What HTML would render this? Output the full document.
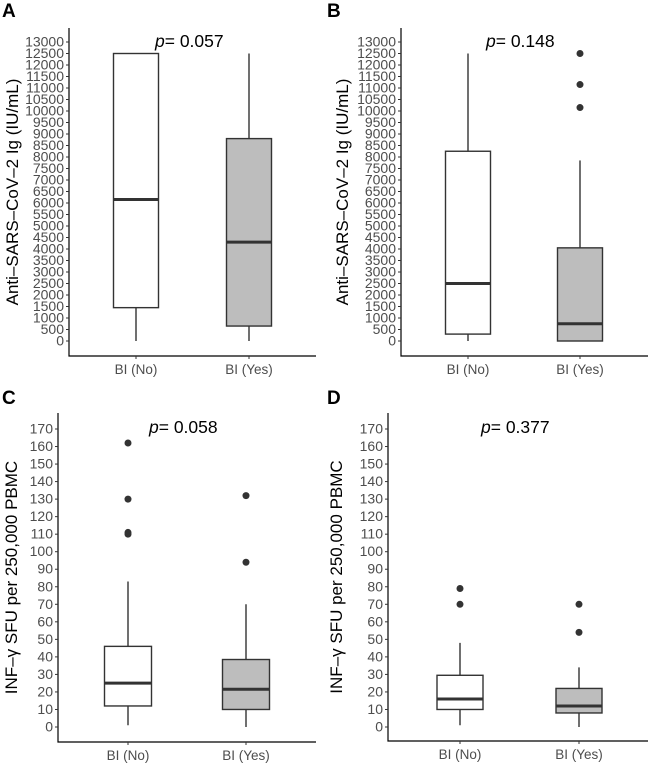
<!DOCTYPE html>
<html><head><meta charset="utf-8"><style>
html,body{margin:0;padding:0;background:#fff;}
svg{display:block;font-family:"Liberation Sans",sans-serif;}
</style></head><body>
<svg id="fig" width="650" height="765" viewBox="0 0 650 765"></svg>
<script>
const categories = ["BI (No)", "BI (Yes)"];
// panel A: [lowWhisker, q1, median, q3, highWhisker]
const statsA = [[0, 1450, 6150, 12500, 12500], [0, 650, 4300, 8800, 12500]];
const outliersA = [[], []];
const statsB = [[0, 300, 2500, 8250, 12500], [0, 0, 750, 4050, 7850]];
const outliersB = [[], [12500, 11150, 10150]];
const statsC = [[1, 12, 25, 46, 83], [0, 10, 21.5, 38.5, 70]];
const outliersC = [[162, 130, 111, 110], [132, 94]];
const statsD = [[1, 10, 16, 29.5, 48], [0, 8, 12, 22, 34]];
const outliersD = [[79, 70], [70, 54]];
const pValues = ["0.057", "0.148", "0.058", "0.377"];
const ticksIg = Array.from({length: 27}, (_, i) => i * 500);
const ticksSfu = Array.from({length: 18}, (_, i) => i * 10);

const NS = "http://www.w3.org/2000/svg";
const svg = document.getElementById("fig");
function el(tag, attrs, parent) {
  const e = document.createElementNS(NS, tag);
  for (const k in attrs) e.setAttribute(k, attrs[k]);
  (parent || svg).appendChild(e);
  return e;
}

function panel(cfg) {
  const g = el("g", {});
  
  
  const y = v => cfg.y0 + (v - 0) * (cfg.yTop - cfg.y0) / cfg.vmax;
  const lt = el("text", {x: cfg.letterX, y: cfg.letterY, "font-size": 19, "font-weight": "bold", fill: "#000"}, g);
  lt.textContent = cfg.letter;
  
  
  const ax = el("path", {d: `M${cfg.ax} ${cfg.axTop} V${cfg.axBottom} H${cfg.axRight}`, stroke: "#000", "stroke-width": 1.2, fill: "none"}, g);
  
  
  cfg.ticks.forEach(t => {
    el("line", {x1: cfg.ax - 3, x2: cfg.ax, y1: y(t), y2: y(t), stroke: "#333", "stroke-width": 1}, g);
    const tx = el("text", {x: cfg.ax - 5, y: y(t) + 4.5, "font-size": cfg.tickFs, fill: "#4d4d4d", "text-anchor": "end"}, g);
    tx.textContent = t;
    
    
  });
  const yt = el("text", {transform: `translate(${cfg.titleX},${(cfg.axTop + cfg.axBottom) / 2}) rotate(-90)`, "font-size": 17, fill: "#000", "text-anchor": "middle"}, g);
  yt.textContent = cfg.title;
  
  
  const hw = cfg.boxW / 2;
  categories.forEach((c, i) => {
    const cx = cfg.centers[i];
    el("line", {x1: cx, x2: cx, y1: cfg.axBottom, y2: cfg.axBottom + 3, stroke: "#333"}, g);
    const xl = el("text", {x: cx, y: cfg.axBottom + 18, "font-size": 13.5, fill: "#4d4d4d", "text-anchor": "middle"}, g);
    xl.textContent = c;
    
    
    const s = cfg.stats[i];
    const w = el("path", {d: `M${cx} ${y(s[0])} V${y(s[1])} M${cx} ${y(s[3])} V${y(s[4])}`, stroke: "#333", "stroke-width": 1.4}, g);
    
    
    const b = el("rect", {x: cx - hw, y: y(s[3]), width: cfg.boxW, height: y(s[1]) - y(s[3]), fill: i ? "#bdbdbd" : "#fff", stroke: "#333", "stroke-width": 1.4}, g);
    
    
    const m = el("line", {x1: cx - hw, x2: cx + hw, y1: y(s[2]), y2: y(s[2]), stroke: "#333", "stroke-width": 3}, g);
    
    
    cfg.outliers[i].forEach(o => {
      const p = el("circle", {cx: cx, cy: y(o), r: 3.5, fill: "#333"}, g);
      
      
    });
  });
  const pt = el("text", {x: cfg.pX, y: cfg.pY, "font-size": 17.5, fill: "#000"}, g);
  pt.innerHTML = '<tspan font-style="italic">p</tspan>=  ' + cfg.p;
  pt.setAttribute('xml:space', 'preserve');
  
  
}

const igTitle = "Anti\u2013SARS\u2013CoV\u20132 Ig (IU/mL)";
const sfuTitle = "INF\u2013\u03b3 SFU per 250,000 PBMC";
panel({letter: "A", letterX: 2, letterY: 17, ax: 69, axTop: 28, axBottom: 356, axRight: 316,
  y0: 341, yTop: 42, vmax: 13000, ticks: ticksIg, tickFs: 14, titleX: 18, title: igTitle,
  centers: [136, 249], boxW: 45, stats: statsA, outliers: outliersA, p: pValues[0], pX: 155, pY: 47});
panel({letter: "B", letterX: 327, letterY: 17, ax: 401, axTop: 28, axBottom: 356, axRight: 648,
  y0: 341, yTop: 42, vmax: 13000, ticks: ticksIg, tickFs: 14, titleX: 348, title: igTitle,
  centers: [468, 580], boxW: 45, stats: statsB, outliers: outliersB, p: pValues[1], pX: 486, pY: 47});
panel({letter: "C", letterX: 2, letterY: 404, ax: 58, axTop: 413, axBottom: 742, axRight: 316,
  y0: 727, yTop: 429, vmax: 170, ticks: ticksSfu, tickFs: 14, titleX: 17, title: sfuTitle,
  centers: [128, 246], boxW: 47, stats: statsC, outliers: outliersC, p: pValues[2], pX: 149, pY: 433});
panel({letter: "D", letterX: 327, letterY: 404, ax: 388, axTop: 413, axBottom: 741, axRight: 648,
  y0: 727, yTop: 429, vmax: 170, ticks: ticksSfu, tickFs: 14, titleX: 342, title: sfuTitle,
  centers: [460, 579], boxW: 46, stats: statsD, outliers: outliersD, p: pValues[3], pX: 481, pY: 433});
</script>
</body></html>
